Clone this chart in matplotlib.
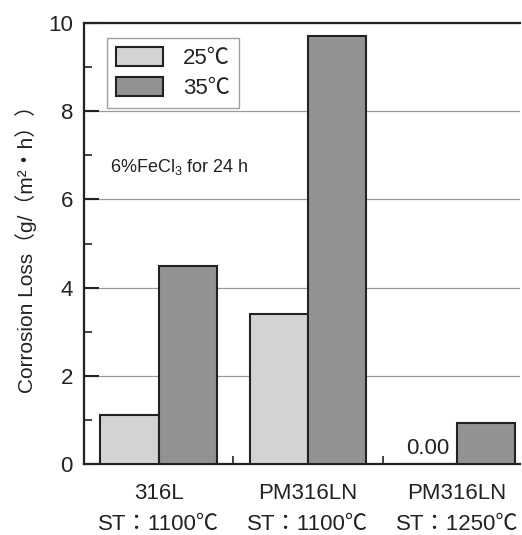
import matplotlib
matplotlib.use("Agg")
import matplotlib.pyplot as plt
import numpy as np

plt.rcParams["font.family"] = ["Liberation Sans", "Noto Sans CJK JP", "DejaVu Sans"]
plt.rcParams["mathtext.default"] = "regular"

# data
groups = ["316L\nST：1100℃", "PM316LN\nST：1100℃", "PM316LN\nST：1250℃"]
loss_25 = [1.1, 3.4, 0.0]
loss_35 = [4.5, 9.7, 0.93]
series_names = ["25℃", "35℃"]

LIGHT = "#d3d3d3"
DARK = "#929292"
BAR_W = 0.39

fig = plt.figure(figsize=(5.22, 5.35), dpi=100)
ax = fig.add_axes([0.161, 0.1327, 0.835, 0.8243])

x = np.arange(len(groups))
ax.bar(x - BAR_W / 2, loss_25, BAR_W, color=LIGHT, edgecolor="#222222",
       linewidth=1.5, label=series_names[0], zorder=3)
ax.bar(x + BAR_W / 2, loss_35, BAR_W, color=DARK, edgecolor="#222222",
       linewidth=1.5, label=series_names[1], zorder=3)

# zero-value label for the 25C bar of the last group
ax.text(x[2] - BAR_W / 2, 0.12, "%.2f" % loss_25[2], ha="center", va="bottom",
        fontsize=16, color="#222222")

ax.text(-0.325, 6.62, "6%FeCl$_3$ for 24 h", fontsize=13, va="baseline",
        color="#222222")

ax.set_xlim(-0.5, 2.42)
ax.set_ylim(0, 10)
ax.set_yticks(np.arange(0, 11, 2))
ax.set_yticks(np.arange(1, 10, 2), minor=True)
ax.set_xticks(x)
ax.set_xticklabels(groups, fontsize=16, linespacing=1.6)
ax.set_xticks([0.5, 1.5], minor=True)

ax.tick_params(axis="y", which="major", direction="in", length=11, width=1.5,
               labelsize=16, pad=8, colors="#222222")
ax.tick_params(axis="y", which="minor", direction="in", length=6, width=1.2,
               colors="#222222")
ax.tick_params(axis="x", which="major", length=0, pad=14, colors="#222222")
ax.tick_params(axis="x", which="minor", direction="in", length=6, width=1.2,
               colors="#222222")

ax.yaxis.grid(True, color="#9a9a9a", linewidth=0.9, zorder=0)
ax.set_axisbelow(True)

for side in ["left", "top", "bottom"]:
    ax.spines[side].set_linewidth(1.6)
    ax.spines[side].set_color("#222222")
ax.spines["right"].set_visible(False)

ax.set_ylabel("Corrosion Loss（g/（m²・h））", fontsize=15, labelpad=8,
              color="#222222")

leg = ax.legend(loc="upper left", bbox_to_anchor=(0.053, 0.966), fontsize=16,
                fancybox=False, handlelength=2.1, handleheight=0.95,
                borderpad=0.4, labelspacing=0.35, handletextpad=0.9,
                borderaxespad=0)
leg.get_frame().set_edgecolor("#888888")
leg.get_frame().set_linewidth(1.0)
for t in leg.get_texts():
    t.set_color("#222222")

fig.savefig("out.png", dpi=100)
